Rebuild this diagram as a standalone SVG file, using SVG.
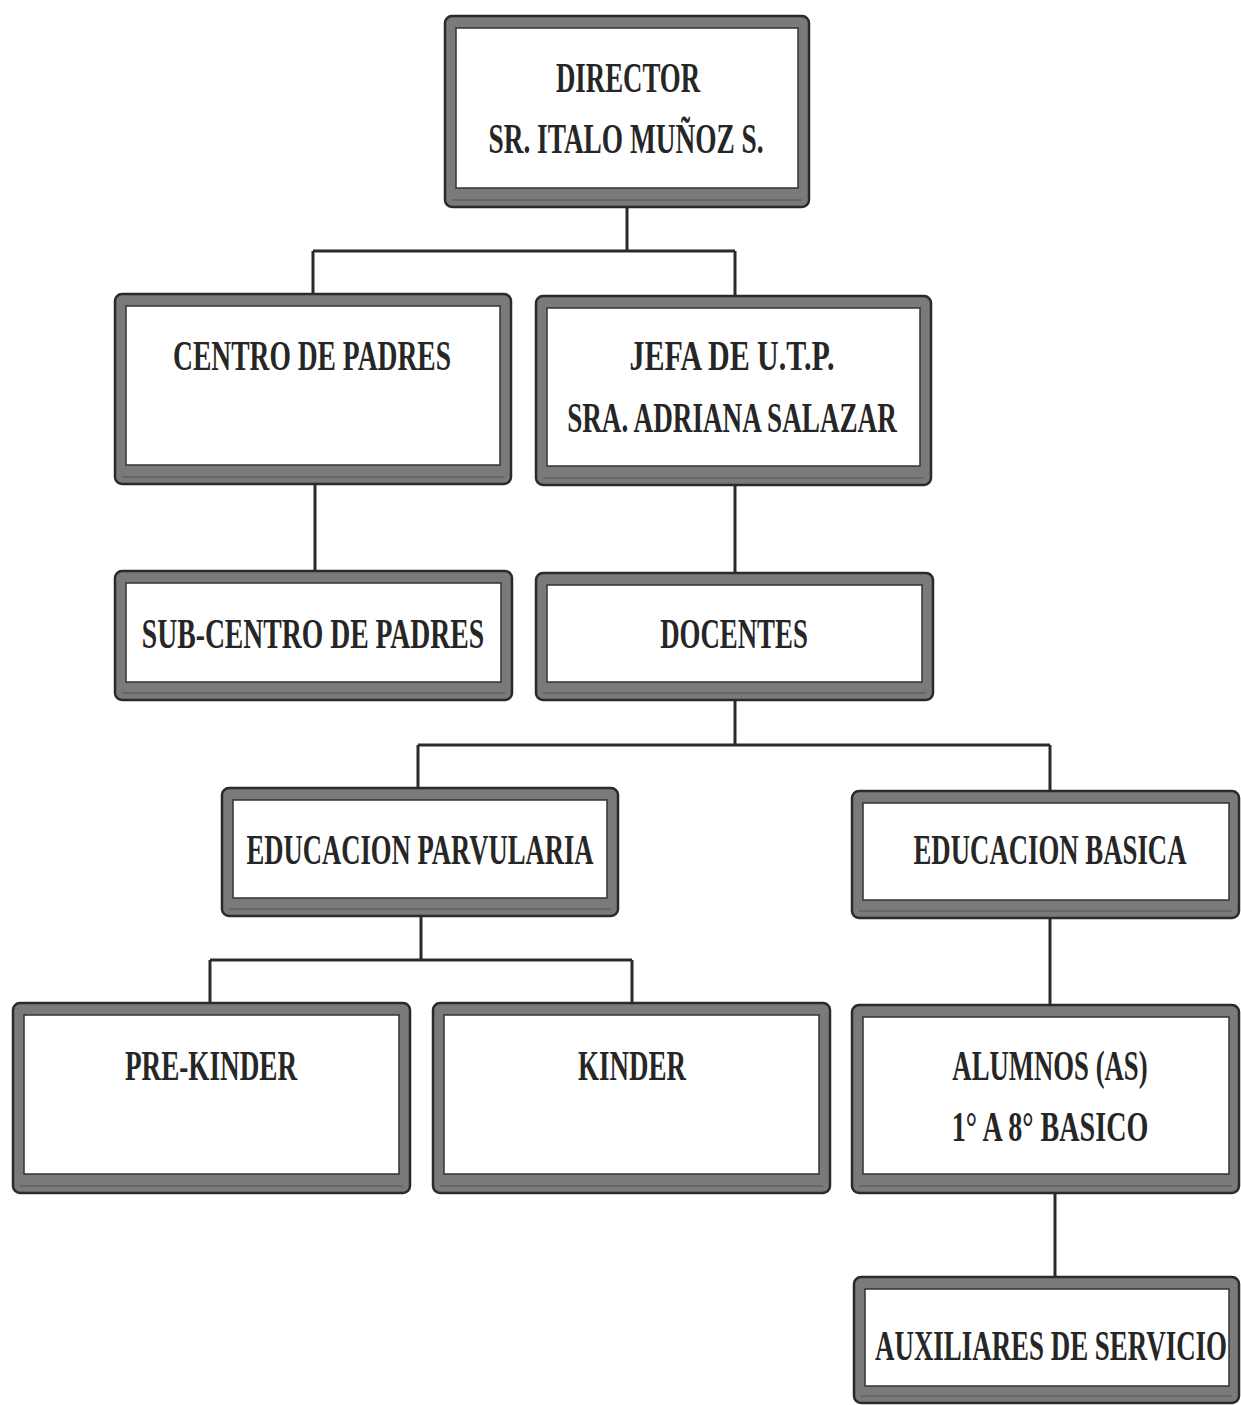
<svg xmlns="http://www.w3.org/2000/svg" width="1241" height="1405" viewBox="0 0 1241 1405">
<style>
.o{fill:#7a7a7a;stroke:#2a2a2a;stroke-width:2.5}
.i{fill:#fff;stroke:#333;stroke-width:1.5}
.l{fill:none;stroke:#555;stroke-width:1}
.t{font-family:"Liberation Serif",serif;font-weight:bold;font-size:42px;fill:#262626;text-anchor:middle}
.c{fill:none;stroke:#2a2a2a;stroke-width:3}
</style>
<rect width="1241" height="1405" fill="#fff"/>
<g id="connectors">
<path class="c" d="M627 207V251M313 251H735M313 251V294M735 251V296"/>
<path class="c" d="M315 484V571"/>
<path class="c" d="M735 485V573"/>
<path class="c" d="M735 700V745M418 745H1050M418 745V788M1050 745V791"/>
<path class="c" d="M421 916V960M210 960H632M210 960V1003M632 960V1003"/>
<path class="c" d="M1050 918V1005"/>
<path class="c" d="M1055 1193V1277"/>
</g>
<g id="director">
<rect class="o" x="445" y="16" width="364" height="191" rx="7"/>
<rect class="i" x="456" y="28" width="342" height="160"/>
<line class="l" x1="452" y1="200" x2="802" y2="200"/>
<text class="t" transform="translate(628,92) scale(0.7,1)" textLength="206" lengthAdjust="spacingAndGlyphs">DIRECTOR</text>
<text class="t" transform="translate(626,153) scale(0.7,1)" textLength="393" lengthAdjust="spacingAndGlyphs">SR. ITALO MUÑOZ S.</text>
</g>
<g id="centro">
<rect class="o" x="115" y="294" width="396" height="190" rx="7"/>
<rect class="i" x="126" y="306" width="374" height="159"/>
<line class="l" x1="122" y1="477" x2="504" y2="477"/>
<text class="t" transform="translate(312,370) scale(0.7,1)" textLength="397" lengthAdjust="spacingAndGlyphs">CENTRO DE PADRES</text>
</g>
<g id="jefa">
<rect class="o" x="536" y="296" width="395" height="189" rx="7"/>
<rect class="i" x="547" y="308" width="373" height="158"/>
<line class="l" x1="543" y1="478" x2="924" y2="478"/>
<text class="t" transform="translate(732,370) scale(0.7,1)" textLength="293" lengthAdjust="spacingAndGlyphs">JEFA DE U.T.P.</text>
<text class="t" transform="translate(732,432) scale(0.7,1)" textLength="471" lengthAdjust="spacingAndGlyphs">SRA. ADRIANA SALAZAR</text>
</g>
<g id="subcentro">
<rect class="o" x="115" y="571" width="397" height="129" rx="7"/>
<rect class="i" x="126" y="583" width="375" height="99"/>
<line class="l" x1="122" y1="693" x2="505" y2="693"/>
<text class="t" transform="translate(313,648) scale(0.7,1)" textLength="489" lengthAdjust="spacingAndGlyphs">SUB-CENTRO DE PADRES</text>
</g>
<g id="docentes">
<rect class="o" x="536" y="573" width="397" height="127" rx="7"/>
<rect class="i" x="547" y="585" width="375" height="97"/>
<line class="l" x1="543" y1="693" x2="926" y2="693"/>
<text class="t" transform="translate(734,648) scale(0.7,1)" textLength="211" lengthAdjust="spacingAndGlyphs">DOCENTES</text>
</g>
<g id="parvularia">
<rect class="o" x="222" y="788" width="396" height="128" rx="7"/>
<rect class="i" x="233" y="800" width="374" height="98"/>
<line class="l" x1="229" y1="909" x2="611" y2="909"/>
<text class="t" transform="translate(420,864) scale(0.7,1)" textLength="496" lengthAdjust="spacingAndGlyphs">EDUCACION PARVULARIA</text>
</g>
<g id="basica">
<rect class="o" x="852" y="791" width="387" height="127" rx="7"/>
<rect class="i" x="863" y="803" width="366" height="97"/>
<line class="l" x1="859" y1="911" x2="1232" y2="911"/>
<text class="t" transform="translate(1050,864) scale(0.7,1)" textLength="390" lengthAdjust="spacingAndGlyphs">EDUCACION BASICA</text>
</g>
<g id="prekinder">
<rect class="o" x="13" y="1003" width="397" height="190" rx="7"/>
<rect class="i" x="24" y="1015" width="375" height="159"/>
<line class="l" x1="20" y1="1186" x2="403" y2="1186"/>
<text class="t" transform="translate(211,1080) scale(0.7,1)" textLength="246" lengthAdjust="spacingAndGlyphs">PRE-KINDER</text>
</g>
<g id="kinder">
<rect class="o" x="433" y="1003" width="397" height="190" rx="7"/>
<rect class="i" x="444" y="1015" width="375" height="159"/>
<line class="l" x1="440" y1="1186" x2="823" y2="1186"/>
<text class="t" transform="translate(632,1080) scale(0.7,1)" textLength="154" lengthAdjust="spacingAndGlyphs">KINDER</text>
</g>
<g id="alumnos">
<rect class="o" x="852" y="1005" width="387" height="188" rx="7"/>
<rect class="i" x="863" y="1017" width="366" height="157"/>
<line class="l" x1="859" y1="1186" x2="1232" y2="1186"/>
<text class="t" transform="translate(1050,1080) scale(0.7,1)" textLength="279" lengthAdjust="spacingAndGlyphs">ALUMNOS (AS)</text>
<text class="t" transform="translate(1050,1141) scale(0.7,1)" textLength="281" lengthAdjust="spacingAndGlyphs">1° A 8° BASICO</text>
</g>
<g id="auxiliares">
<rect class="o" x="854" y="1277" width="385" height="126" rx="7"/>
<rect class="i" x="865" y="1289" width="364" height="97"/>
<line class="l" x1="861" y1="1396" x2="1232" y2="1396"/>
<text class="t" transform="translate(1051,1360) scale(0.55,1)" textLength="640" lengthAdjust="spacingAndGlyphs">AUXILIARES DE SERVICIO</text>
</g>
</svg>
